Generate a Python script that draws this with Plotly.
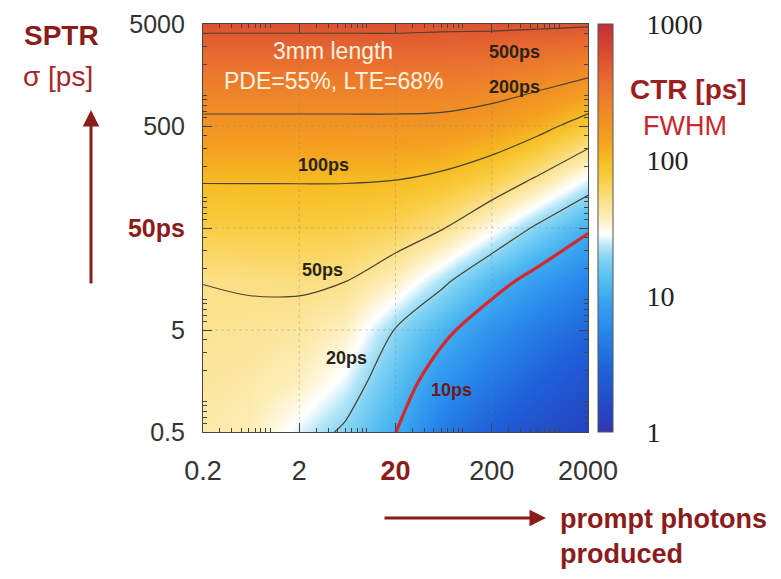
import numpy as np
import plotly.graph_objects as go

# ---------------- data ----------------
photons = [0.2, 0.6, 2, 6, 20, 60, 200, 600, 2000]          # prompt photons produced
sptr = [0.5, 1.5, 5, 15, 50, 150, 500, 1500, 5000]          # SPTR sigma [ps]

# CTR FWHM [ps] for each SPTR row (columns follow `photons`)
ctr_sptr_0p5 = [41.7, 38.9, 26.0, 18.5, 10.1, 4.6, 2.6, 1.8, 1.35]
ctr_sptr_1p5 = [44.3, 42.3, 37.0, 26.4, 13.7, 7.1, 4.2, 2.8, 1.9]
ctr_sptr_5 = [47.2, 46.3, 44.0, 36.9, 19.5, 11.7, 6.8, 4.5, 3.1]
ctr_sptr_15 = [50.2, 51.6, 52.8, 50.2, 36.6, 22.3, 12.5, 8.0, 5.2]
ctr_sptr_50 = [72.8, 73.6, 74.5, 72.8, 65.8, 51.8, 31.0, 18.4, 10.8]
ctr_sptr_150 = [103, 103, 103, 103, 101, 90.8, 71.4, 46.9, 27.0]
ctr_sptr_500 = [175, 175, 175, 175, 175, 171, 150, 119, 78.9]
ctr_sptr_1500 = [301, 301, 301, 301, 301, 299, 280, 245, 202]
ctr_sptr_5000 = [556, 556, 556, 556, 556, 547, 546, 540, 527]

contour_levels = [10, 20, 50, 100, 200, 500]                 # ps
x_tick_vals = [0.2, 2, 20, 200, 2000]
x_tick_text = ["0.2", "2", "20", "200", "2000"]
y_tick_vals = [0.5, 5, 50, 500, 5000]
y_tick_text = ["0.5", "5", "50ps", "500", "5000"]
cbar_tick_vals = [1, 10, 100, 1000]
cbar_tick_text = ["1", "10", "100", "1000"]

# ---------------- figure ----------------
ctr_rows = [ctr_sptr_0p5, ctr_sptr_1p5, ctr_sptr_5, ctr_sptr_15, ctr_sptr_50,
            ctr_sptr_150, ctr_sptr_500, ctr_sptr_1500, ctr_sptr_5000]
zlog = np.log10(np.array(ctr_rows, dtype=float))

OFF = 8                      # default page body margin
W, H = 781 - 2 * OFF, 579 - 2 * OFF
PW, PH = 385, 408
L, T = 203 - OFF, 24 - OFF
R, B = W - L - PW, H - T - PH


def px(xp):
    return (xp - OFF - L) / PW


def py(yp):
    return (T + PH - (yp - OFF)) / PH


colorscale = [
    [0.000, "#3436b0"], [0.054, "#2446c4"], [0.152, "#1f62d8"],
    [0.250, "#2888ec"], [0.324, "#3aa6f0"], [0.373, "#56bef0"],
    [0.422, "#80d2f4"], [0.455, "#b4e6f8"], [0.485, "#ffffff"],
    [0.525, "#fdefbc"], [0.580, "#fbdc78"], [0.625, "#f9cc40"],
    [0.667, "#f7bc22"], [0.716, "#f4a020"], [0.789, "#ef8828"],
    [0.863, "#e86a30"], [0.936, "#d84830"], [1.000, "#c0303a"],
]

DARK_RED = "#8b1c1c"

fig = go.Figure()

fig.add_trace(go.Contour(
    x=photons, y=sptr, z=zlog,
    colorscale=colorscale, zmin=0, zmax=3,
    contours=dict(coloring="heatmap", showlines=False, start=0, end=3, size=0.01),
    line=dict(width=0),
    hoverinfo="skip",
    colorbar=dict(
        x=1 + 10 / PW, xanchor="left", y=0.5, yanchor="middle",
        len=1, lenmode="fraction", thickness=15, xpad=0, ypad=0,
        outlinewidth=1, outlinecolor="#555",
        tickmode="array",
        tickvals=list(np.log10(cbar_tick_vals)), ticktext=cbar_tick_text,
        ticks="outside", ticklen=28, tickcolor="rgba(0,0,0,0)",
        tickfont=dict(family="Liberation Serif", size=28, color="#222"),
    ),
))

# dotted grid lines at the major ticks
for gx in x_tick_vals[1:-1]:
    fig.add_trace(go.Scatter(x=[gx, gx], y=[sptr[0], sptr[-1]], mode="lines",
                             line=dict(color="rgba(130,130,130,0.35)", width=1, dash="dot"),
                             hoverinfo="skip", showlegend=False))
for gy in y_tick_vals[1:-1]:
    fig.add_trace(go.Scatter(x=[photons[0], photons[-1]], y=[gy, gy], mode="lines",
                             line=dict(color="rgba(130,130,130,0.35)", width=1, dash="dot"),
                             hoverinfo="skip", showlegend=False))

for lev in contour_levels:
    is_ten = lev == 10
    fig.add_trace(go.Contour(
        x=photons, y=sptr, z=zlog,
        contours=dict(coloring="none", start=np.log10(lev), end=np.log10(lev), size=1),
        line=dict(color="#d8262b" if is_ten else "#4a4232", width=3.2 if is_ten else 1.2,
                  smoothing=0.8),
        showscale=False, hoverinfo="skip",
    ))

minor_x = [m * 10.0 ** e for e in range(-1, 4) for m in range(1, 10)
           if 0.2 < m * 10.0 ** e < 2000 and m != 2]
minor_y = [m * 10.0 ** e for e in range(-1, 4) for m in range(1, 10)
           if 0.5 < m * 10.0 ** e < 5000 and m != 5]

axis_common = dict(
    type="log", showgrid=False, zeroline=False, automargin=False,
    showline=True, linecolor="#444", linewidth=1.2, mirror="allticks",
    ticks="inside", ticklen=9, tickcolor="#444", tickwidth=1,
    layer="above traces",
    minor=dict(ticks="inside", ticklen=4, tickcolor="#444", tickwidth=1),
)

xt = [f'<b><span style="color:{DARK_RED}">{t}</span></b>' if t == "20" else t for t in x_tick_text]
yt = [f'<b><span style="color:{DARK_RED}">{t}</span></b>' if t == "50ps" else t for t in y_tick_text]

fig.update_xaxes(**axis_common, range=[np.log10(0.2), np.log10(2000)],
                 tickmode="array", tickvals=x_tick_vals, ticktext=xt,
                 tickfont=dict(family="Liberation Sans Narrow, Liberation Sans", size=27, color="#333"),
                 ticklabelstandoff=14)
fig.update_xaxes(minor_tickvals=minor_x)
fig.update_yaxes(**axis_common, range=[np.log10(0.5), np.log10(5000)],
                 tickmode="array", tickvals=y_tick_vals, ticktext=yt,
                 tickfont=dict(family="Liberation Sans", size=25, color="#333"),
                 ticklabelstandoff=12)
fig.update_yaxes(minor_tickvals=minor_y)

ann = []


def text(xp, yp, s, size, color, bold=False, family="Liberation Sans", xanchor="center"):
    ann.append(dict(x=px(xp), y=py(yp), xref="paper", yref="paper", showarrow=False,
                    text=f"<b>{s}</b>" if bold else s, xanchor=xanchor, yanchor="middle",
                    font=dict(family=family, size=size, color=color)))


# axis titles
text(61, 35, "SPTR", 28, DARK_RED, bold=True)
text(58, 76, "σ [ps]", 28, "#a3282a")
text(688, 89, "CTR [ps]", 28, "#9b1f1f", bold=True)
text(685, 126, "FWHM", 27, "#c8282d")
text(558, 519, "prompt photons", 27, DARK_RED, bold=True, xanchor="left")
text(558, 554, "produced", 27, DARK_RED, bold=True, xanchor="left")

# in-plot notes
text(333, 51, "3mm length", 23, "#fff4e0")
text(333, 81, "PDE=55%, LTE=68%", 23, "#fff4e0")

# contour labels
text(514, 52, "500ps", 18, "#2a2418", bold=True)
text(514, 87, "200ps", 18, "#2a2418", bold=True)
text(323, 165, "100ps", 18, "#2a2418", bold=True)
text(322, 270, "50ps", 18, "#2a2418", bold=True)
text(346, 358, "20ps", 18, "#2a2418", bold=True)
text(451, 390, "10ps", 18, "#6a1a1a", bold=True)

# arrows
ann.append(dict(x=px(91), y=py(110), xref="paper", yref="paper", ax=0, ay=175,
                axref="pixel", ayref="pixel", text="", showarrow=True,
                arrowhead=2, arrowsize=1.1, arrowwidth=3, arrowcolor=DARK_RED))
ann.append(dict(x=px(546), y=py(518), xref="paper", yref="paper", ax=-163, ay=0,
                axref="pixel", ayref="pixel", text="", showarrow=True,
                arrowhead=2, arrowsize=1.1, arrowwidth=3, arrowcolor=DARK_RED))

fig.update_layout(
    width=W, height=H,
    margin=dict(l=L, r=R, t=T, b=B, autoexpand=False),
    paper_bgcolor="white", plot_bgcolor="white",
    showlegend=False,
    annotations=ann,
)

fig.write_html("out.html")
